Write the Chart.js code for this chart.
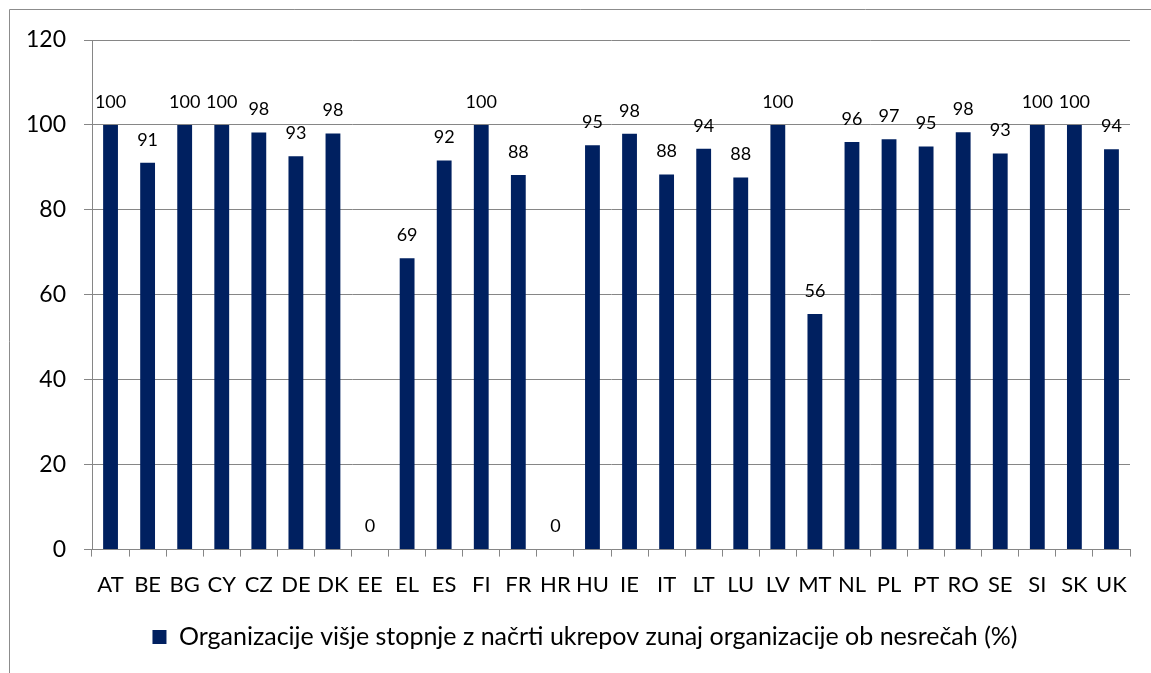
<!DOCTYPE html>
<html>
<head>
<meta charset="utf-8">
<script src="https://cdn.jsdelivr.net/npm/chart.js@4/dist/chart.umd.min.js"></script>
<style>
html,body{margin:0;padding:0;background:#fff;}
#wrap{position:relative;width:1151px;height:673px;}
</style>
</head>
<body>
<div id="wrap"><canvas id="c" width="1151" height="673"></canvas></div>
<script>
const categories = ['AT','BE','BG','CY','CZ','DE','DK','EE','EL','ES','FI','FR','HR','HU','IE','IT','LT','LU','LV','MT','NL','PL','PT','RO','SE','SI','SK','UK'];
const values = [100, 91.1, 100, 100, 98.2, 92.6, 98.0, 0, 68.6, 91.6, 100, 88.2, 0, 95.2, 97.9, 88.3, 94.4, 87.6, 100, 55.5, 96.0, 96.6, 94.9, 98.3, 93.3, 100, 100, 94.3];
const seriesLabel = 'Organizacije višje stopnje z načrti ukrepov zunaj organizacije ob nesrečah (%)';
const yTicks = [0, 20, 40, 60, 80, 100, 120];

const FONT = 'Lato, "Open Sans", sans-serif';
const GRID = '#868686';

const borderPlugin = {
  id: 'outerBorder',
  beforeDraw(chart) {
    const ctx = chart.ctx;
    ctx.save();
    ctx.strokeStyle = '#8c8c8c';
    ctx.lineWidth = 1;
    ctx.beginPath();
    ctx.moveTo(9.5, 673);
    ctx.lineTo(9.5, 9.5);
    ctx.lineTo(1151, 9.5);
    ctx.stroke();
    ctx.restore();
  }
};

const legendShift = {
  id: 'legendShift',
  afterLayout(chart) {
    if (chart.legend) {
      chart.legend.left += 15;
      chart.legend.right += 15;
    }
  }
};

const labelPlugin = {
  id: 'valueLabels',
  afterDatasetsDraw(chart) {
    const ctx = chart.ctx;
    const meta = chart.getDatasetMeta(0);
    ctx.save();
    ctx.font = '18px ' + FONT;
    ctx.fillStyle = '#000';
    ctx.textAlign = 'center';
    ctx.textBaseline = 'middle';
    meta.data.forEach((bar, i) => {
      ctx.fillText(String(Math.round(values[i])), bar.x, bar.y - 23);
    });
    ctx.restore();
  }
};

new Chart(document.getElementById('c'), {
  type: 'bar',
  data: {
    labels: categories,
    datasets: [{
      label: seriesLabel,
      data: values,
      backgroundColor: '#002060',
      borderWidth: 0,
      categoryPercentage: 1.0,
      barPercentage: 0.4
    }]
  },
  options: {
    responsive: false,
    animation: false,
    layout: { padding: { left: 10, right: 21, top: 40, bottom: 13.5 } },
    plugins: {
      tooltip: { enabled: false },
      legend: {
        position: 'bottom',
        labels: {
          boxWidth: 14,
          boxHeight: 14,
          padding: 11.5,
          color: '#000',
          font: { family: FONT, size: 25 }
        }
      }
    },
    scales: {
      x: {
        offset: true,
        grid: {
          offset: true,
          drawOnChartArea: false,
          drawTicks: true,
          tickLength: 7,
          color: GRID
        },
        border: { display: true, color: GRID, width: 1 },
        ticks: {
          color: '#000',
          padding: 15,
          maxRotation: 0,
          autoSkip: false,
          font: { family: FONT, size: 22 }
        }
      },
      y: {
        min: 0,
        max: 120,
        afterFit(scale) { scale.width = 82; },
        afterBuildTicks(scale) { scale.ticks = yTicks.map(v => ({ value: v })); },
        grid: {
          color: GRID,
          tickLength: 8,
          drawTicks: true
        },
        border: { display: true, color: GRID, width: 1 },
        ticks: {
          color: '#000',
          padding: 18,
          font: { family: FONT, size: 23 }
        }
      }
    }
  },
  plugins: [borderPlugin, legendShift, labelPlugin]
});
</script>
</body>
</html>
